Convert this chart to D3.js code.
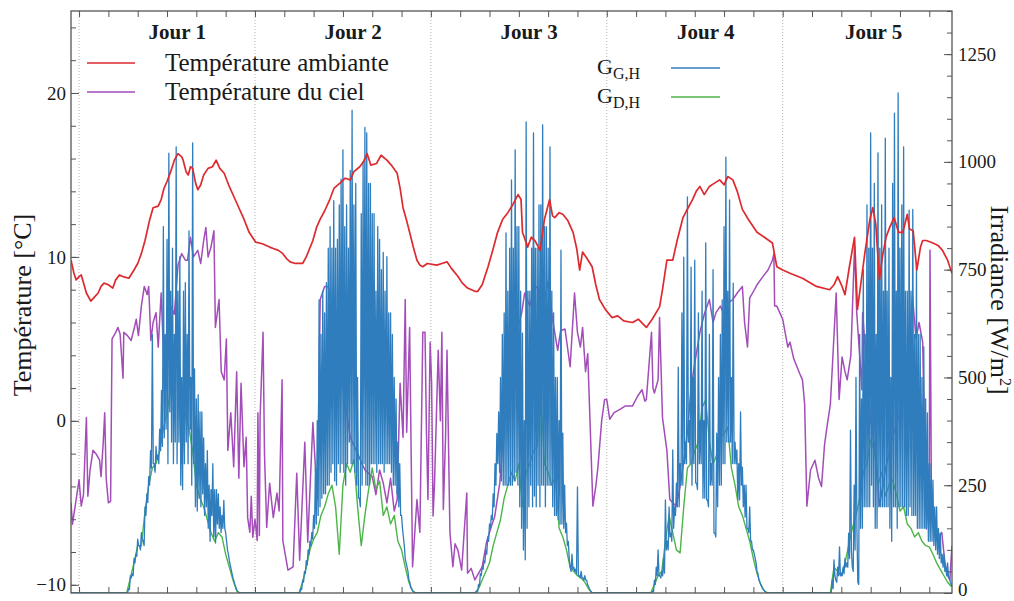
<!DOCTYPE html>
<html><head><meta charset="utf-8">
<script src="https://cdn.jsdelivr.net/npm/d3@7"></script>
<style>body{margin:0;background:#fff}svg{display:block}</style>
</head><body><svg id="c" width="1014" height="601"></svg>
<script>
// ---------------- DATA ----------------
const dayLabels = ["Jour 1","Jour 2","Jour 3","Jour 4","Jour 5"];
const dayLabelHours = [13.4, 37.4, 61.4, 85.5, 108.4];
const dayBounds = [0, 24, 48, 72, 96];
const tempTicks = [-10, 0, 10, 20];
const irrTicks = [0, 250, 500, 750, 1000, 1250];

// ambient temperature [hour, °C]
const ambient = [[-1.1,9.8],[-0.7,9.0],[-0.4,8.6],[0,8.8],[0.3,8.9],[1,7.8],[1.6,7.3],[2,7.5],[2.6,7.8],[3,8.2],[3.4,8.4],[4,8.3],[4.6,8.1],[5,8.6],[5.5,8.9],[6,8.8],[6.8,8.7],[7.5,9.2],[8,9.6],[8.5,10.2],[9,11.0],[9.6,12.2],[10.1,13.0],[10.8,13.1],[11.2,13.5],[11.6,14.2],[12,14.6],[12.5,15.2],[13,15.9],[13.5,16.3],[14,16.1],[14.2,15.9],[14.6,15.2],[14.9,15.0],[15.2,15.5],[15.5,15.4],[15.9,14.5],[16.2,14.1],[16.6,14.4],[17,15.0],[17.6,15.4],[18.2,15.5],[18.7,15.9],[19.2,15.4],[19.8,15.1],[20.4,14.4],[21.1,13.7],[21.8,13.0],[22.5,12.3],[23.2,11.5],[24.1,10.9],[25,10.8],[26,10.6],[26.6,10.5],[27.2,10.4],[27.8,10.2],[28.3,9.9],[28.8,9.7],[29.5,9.6],[30.5,9.6],[31,10.0],[31.9,11.0],[32.4,11.8],[32.9,12.3],[33.5,12.8],[34.2,13.5],[34.8,14.2],[35.6,14.5],[36.3,14.8],[37,14.7],[37.5,15.2],[38.3,15.5],[38.8,15.8],[39.3,16.3],[39.8,15.6],[40.6,15.7],[41.2,16.2],[42,15.9],[42.6,15.6],[43.4,15.1],[43.8,14.2],[44.2,13.0],[44.7,12.2],[45.1,11.5],[45.6,10.6],[46.1,9.8],[46.5,9.5],[46.9,9.4],[47.5,9.6],[48.8,9.5],[49.5,9.6],[50.2,9.7],[50.8,9.3],[51.7,8.8],[52.3,8.4],[53,8.1],[54,7.9],[54.4,7.9],[55,8.3],[55.8,9.4],[56.5,10.5],[57.1,11.5],[57.8,12.3],[58.5,12.7],[59.2,13.2],[59.9,13.8],[60.3,13.5],[60.5,11.5],[61.2,10.6],[61.7,11.2],[62.2,11.0],[62.9,10.4],[63.5,12.3],[64.2,13.5],[64.6,12.5],[64.9,12.4],[65.5,12.7],[66,12.6],[66.7,12.2],[67.4,11.5],[67.9,10.5],[68.3,9.2],[68.7,10.3],[69.3,9.9],[70,9.4],[70.5,8.3],[71,7.4],[71.8,6.8],[72.7,6.3],[73.5,6.4],[74.3,6.1],[75.5,6.0],[76.3,6.2],[77.4,5.7],[78.2,6.2],[79.2,6.95],[79.6,8.0],[80.2,9.8],[81,9.8],[81.6,11.0],[82.4,12.4],[83.1,13.0],[83.7,13.5],[84.2,14.0],[84.7,14.3],[85.3,13.8],[86,14.3],[86.7,14.5],[87.4,14.7],[88,14.4],[88.5,14.9],[89.2,14.7],[89.8,14.0],[90.5,12.9],[91.3,12.3],[92.5,11.5],[93.5,11.2],[94.6,10.85],[95.2,9.4],[96,9.2],[97,9.0],[98.7,8.7],[100.6,8.2],[102.4,8.0],[103,8.3],[103.5,8.8],[104.1,8.2],[104.5,7.7],[105.1,9.4],[105.8,11.2],[106.2,6.8],[106.7,8.5],[107.2,10.2],[107.9,12.3],[108.3,13.0],[108.7,12.0],[109.2,8.6],[109.6,10.0],[110.1,11.2],[110.6,11.8],[111.2,12.4],[111.8,11.5],[112.4,11.5],[113,12.6],[113.3,11.7],[113.8,11.6],[114.3,9.2],[114.8,10.6],[115.1,11.0],[115.6,11.0],[116.5,10.85],[117.2,10.7],[117.8,10.4],[118.5,9.8],[119.1,9.0]];

// sky temperature [hour, °C]
const sky = [[-1.1,-5.0],[-0.9,-6.3],[-0.4,-4.8],[0,-3.6],[0.3,-5.2],[0.6,-4.5],[1.0,0.2],[1.2,-4.6],[1.5,-3.0],[1.9,-1.8],[2.3,-2.0],[2.8,-2.4],[3.0,-3.4],[3.3,-1.3],[3.5,0.5],[3.7,-3.5],[4.0,-5.0],[4.3,-4.9],[4.5,5.0],[5.0,5.4],[5.3,5.7],[5.6,5.3],[6.0,2.6],[6.1,5.4],[6.6,5.2],[7.1,4.9],[7.5,5.6],[7.8,6.2],[8.1,5.2],[8.5,7.0],[8.9,8.2],[9.3,7.7],[9.5,8.2],[9.8,4.9],[10.1,6.0],[10.5,6.6],[10.8,4.5],[11.2,7.8],[11.6,3.3],[12.0,5.0],[12.5,7.0],[13.0,6.5],[13.5,9.5],[14.0,10.2],[14.5,9.8],[14.8,9.8],[15.2,11.2],[15.6,10.0],[16.2,10.4],[16.6,9.6],[17.0,11.0],[17.3,11.8],[17.6,10.0],[18.0,10.6],[18.4,11.6],[18.6,5.7],[19.1,7.4],[19.4,3.0],[19.8,2.5],[20.1,5.0],[20.3,-1.8],[20.7,0.5],[21.1,-2.8],[21.5,3.0],[21.8,-3.5],[22.1,2.3],[22.5,-2.8],[22.8,-1.0],[23.0,-5.9],[23.3,-6.8],[23.5,-4.6],[23.7,-7.1],[24.0,-6.0],[24.3,-7.3],[24.4,0.5],[24.6,-7.0],[24.7,0.2],[25.1,5.4],[25.3,-2.0],[25.6,-6.5],[26.0,-3.8],[26.5,-5.9],[27.0,-4.4],[27.3,-5.5],[27.7,2.5],[27.8,-7.3],[28.5,-9.1],[29.2,-8.9],[29.7,-3.2],[30.1,-8.5],[30.8,-1.3],[31.2,-7.4],[31.9,-0.1],[32.5,-4.8],[32.9,7.4],[33.5,8.2],[34.0,8.2],[35.0,5.0],[36.0,2.0],[37.0,-1.0],[38.0,-2.0],[39.0,-3.0],[40.0,-3.4],[40.5,-4.5],[41.0,-3.0],[41.5,-3.8],[42.0,-5.0],[42.5,-3.5],[43.0,-5.5],[43.4,-4.8],[43.8,2.3],[44.2,-1.0],[44.5,7.4],[44.7,-0.7],[45.1,5.7],[45.5,-8.9],[46.1,-4.8],[46.5,-6.8],[46.9,5.4],[47.2,5.4],[47.4,-0.7],[47.6,-4.8],[47.9,4.8],[48.1,2.3],[48.3,-5.8],[48.5,-3.8],[49.0,4.3],[49.3,0.0],[49.5,5.4],[49.7,-5.4],[50.0,-1.0],[50.2,4.3],[50.6,-6.8],[51.0,-8.9],[51.3,-7.5],[51.7,-7.9],[52.2,-9.1],[52.9,-4.4],[53.0,-9.3],[53.5,-9.0],[54.0,-9.7],[54.5,-9.3],[55.0,-8.9],[55.6,-7.4],[56.2,-6.5],[56.7,-5.85],[57.4,-3.8],[58.0,0.0],[58.7,3.0],[59.5,5.0],[60.4,6.6],[60.8,7.8],[61.5,7.0],[62.0,8.0],[62.6,8.2],[63.0,6.0],[63.5,7.4],[64.0,8.5],[64.6,6.2],[65.3,4.3],[65.7,5.5],[66.3,5.6],[67.0,3.3],[67.6,7.8],[68.0,5.4],[68.4,4.5],[68.7,5.7],[69.1,3.0],[69.4,4.1],[70.0,-3.8],[70.1,-5.2],[70.5,-4.0],[70.8,-2.8],[71.3,0.0],[71.7,1.3],[72.0,1.3],[72.4,0.1],[73.0,0.5],[73.8,0.7],[74.5,0.9],[75.5,0.9],[76.2,1.5],[76.8,1.9],[77.2,1.2],[77.4,1.3],[78.1,5.4],[78.3,2.0],[78.5,1.7],[79.0,2.5],[79.2,6.3],[79.6,0.2],[80.2,-1.8],[80.6,-4.8],[81.0,-5.0],[81.5,-5.2],[82.0,-4.0],[82.4,-2.8],[83.0,-0.7],[83.5,2.0],[84.0,3.5],[84.7,5.4],[85.3,6.5],[86.0,7.4],[86.5,6.0],[86.9,6.6],[87.5,7.0],[88.0,6.5],[88.5,7.2],[89.2,7.4],[89.8,7.8],[90.5,8.2],[90.8,6.0],[91.2,4.5],[91.5,7.5],[91.9,7.8],[92.5,8.3],[93.3,8.8],[94.0,9.2],[94.6,9.8],[94.8,10.2],[94.9,7.0],[95.2,7.0],[95.6,6.6],[96.0,6.2],[96.7,4.5],[97.0,4.8],[97.5,3.8],[98.3,2.9],[98.7,2.5],[99.0,1.0],[99.3,-5.2],[99.8,-3.0],[100.4,-2.4],[100.9,-3.5],[101.3,-4.0],[101.7,-1.5],[102.0,-0.5],[102.5,1.0],[102.8,3.5],[103.3,7.8],[103.7,1.3],[104.1,3.9],[104.5,3.0],[104.8,2.5],[105.3,4.0],[105.8,10.6],[106.1,6.6],[106.5,4.0],[106.8,1.9],[106.9,6.6],[107.5,3.0],[108.0,0.0],[108.7,-2.0],[109.2,-5.2],[110.0,-3.0],[111.0,-1.0],[112.0,0.5],[112.8,2.0],[113.3,5.0],[113.7,7.6],[114.2,5.0],[114.6,6.0],[115.1,4.8],[115.6,-6.6],[116.0,-4.0],[116.1,10.4],[116.3,-5.6],[117.0,-7.3],[117.7,-6.8],[118.1,-8.5],[118.4,-9.3],[118.8,-9.7],[119.1,-7.6]];

// global horizontal irradiance: highest and lowest reading in each 0.25 h from each day's start hour
const ggStart = [6.5, 30, 54, 78, 102.5];
const ggHi1 = [0,10,40,45,80,90,125,110,140,120,200,230,270,330,600,300,340,320,380,470,850,600,820,1020,700,800,600,1035,700,780,500,700,720,600,840,500,1044,520,450,460,420,420,360,300,330,250,240,300,240,240,230,200,180,215,140,100,75,55,35,20,8,0];
const ggLo1 = [0,8,35,40,70,85,110,100,125,110,180,210,250,290,300,280,310,300,330,340,360,380,300,420,350,300,350,300,350,250,240,300,350,300,380,250,300,200,190,220,200,230,180,200,150,120,180,130,116,160,150,140,150,150,120,90,65,45,28,14,4,0];
const ggHi2 = [0,10,30,50,75,100,120,140,180,290,400,680,600,700,650,720,800,850,800,910,800,820,900,960,1028,850,900,800,980,1120,900,950,500,220,880,1000,1080,1067,950,950,880,880,700,850,820,750,790,700,780,650,650,600,500,450,350,300,180,130,80,60,30,12,5,0];
const ggLo2 = [0,8,25,45,65,90,110,125,150,160,180,200,220,230,230,250,250,280,300,260,250,300,280,300,280,250,300,350,300,300,280,250,220,200,250,300,250,250,250,300,300,300,280,300,300,300,280,300,300,300,280,250,250,230,200,180,150,110,70,50,25,10,3,0];
const ggHi3 = [0,5,20,45,60,75,100,130,160,180,230,300,370,420,500,600,650,835,700,800,958,800,1028,850,850,700,603,400,1093,700,700,800,1067,800,800,900,900,1086,850,850,800,1035,700,650,500,500,400,795,371,250,162,120,60,90,60,55,246,40,50,35,40,30,15,5,0];
const ggLo3 = [0,3,15,40,55,70,90,120,150,170,200,250,300,280,260,250,250,250,250,250,250,260,280,250,200,150,100,77,150,200,250,200,225,200,250,200,250,250,200,250,250,250,200,180,180,170,160,160,150,140,110,80,50,55,50,45,40,35,35,30,30,20,10,3,0];
const ggHi4 = [0,5,30,60,100,40,50,80,216,120,200,139,332,200,255,524,300,650,779,350,919,400,756,500,772,255,650,400,700,400,812,216,600,300,750,139,371,500,600,680,850,1011,700,912,500,719,350,332,300,420,292,250,250,150,200,120,100,80,50,30,20,10,5,0];
const ggLo4 = [0,3,20,40,40,35,40,46,100,100,130,120,150,180,200,200,250,250,300,300,350,300,250,300,255,240,300,300,220,220,216,200,250,250,139,130,200,250,250,300,300,350,350,350,300,300,300,216,216,250,200,176,150,140,120,100,90,70,45,25,15,8,3,0];
const ggHi5 = [0,30,77,30,60,107,46,60,80,70,139,378,60,250,500,25,600,450,750,600,900,800,1067,800,950,600,1021,800,900,700,1055,700,800,500,950,1113,700,1160,800,900,1035,700,700,888,700,890,600,756,600,600,500,571,450,418,300,300,262,200,200,150,139,90,90,60,70,35,20];
const ggLo5 = [0,10,40,25,40,40,40,45,60,60,80,100,50,100,150,20,150,150,200,200,200,200,250,200,150,150,200,200,200,200,200,200,150,120,200,200,150,200,200,200,200,180,180,200,180,180,180,150,150,150,150,150,150,120,120,120,110,100,90,80,70,60,50,40,35,25,15];

// diffuse horizontal irradiance, one value every 0.5 h from each day's start hour
const gdStart = [6.5, 30, 54, 78, 102.5];
const gdDay1 = [0,35,70,110,110,190,250,290,300,330,380,420,470,575,520,300,420,380,330,250,220,200,170,140,120,140,130,90,60,30,5,0];
const gdDay2 = [0,25,60,100,125,140,180,200,230,250,200,90,250,300,280,310,200,110,180,240,290,240,260,180,200,160,180,120,100,60,25,5,0];
const gdDay3 = [0,10,30,50,70,110,140,170,220,250,280,260,300,200,280,300,330,340,460,300,280,250,270,150,130,100,60,50,40,35,25,10,0];
const gdDay4 = [0,20,40,50,120,180,140,100,93,200,290,300,330,350,430,448,350,300,320,360,370,385,290,250,200,180,150,120,80,45,20,5,0];
const gdDay5 = [0,60,50,40,70,110,150,180,220,280,300,355,330,250,280,225,250,262,230,190,200,160,150,130,140,120,110,107,90,70,55,40,25,15];

// ---------------- CHART ----------------
const svg = d3.select('#c');
const L = 71, R = 952, T = 11, B = 593;
const FONT = "'Liberation Serif','Times New Roman',serif";
const txt = '#1a1a1a';

const x = d3.scaleLinear().domain([-1.1, 119.1]).range([L, R]);
const yT = d3.scaleLinear().domain([-10.5, 25]).range([B, T]);
const yG = d3.scaleLinear().domain([0, 1350]).range([B, T]);

svg.append('clipPath').attr('id', 'clip').append('rect')
  .attr('x', L).attr('y', T).attr('width', R - L).attr('height', B - T);

// day gridlines
svg.append('g').selectAll('line').data(dayBounds).join('line')
  .attr('x1', d => x(d)).attr('x2', d => x(d)).attr('y1', T).attr('y2', B)
  .attr('stroke', '#9a9a9a').attr('stroke-width', 0.8).attr('stroke-dasharray', '1,2');

// global irradiance: hi at start of each quarter hour, lo at its middle
const ggHi = [ggHi1, ggHi2, ggHi3, ggHi4, ggHi5];
const ggLo = [ggLo1, ggLo2, ggLo3, ggLo4, ggLo5];
const gg = [[x.domain()[0], 0]];
ggHi.forEach((arr, k) => arr.forEach((v, i) => {
  gg.push([ggStart[k] + i * 0.25, v]);
  gg.push([ggStart[k] + i * 0.25 + 0.125, ggLo[k][i]]);
}));
const gd = [[x.domain()[0], 0]];
[gdDay1, gdDay2, gdDay3, gdDay4, gdDay5].forEach((arr, k) =>
  arr.forEach((v, i) => gd.push([gdStart[k] + i * 0.5, v])));

const lineT = d3.line().x(d => x(d[0])).y(d => yT(d[1]));
const lineG = d3.line().x(d => x(d[0])).y(d => yG(d[1]));

const plot = svg.append('g').attr('clip-path', 'url(#clip)');
const cSky = '#a24db8', cAmb = '#dd2a2e', cGG = '#2f7dbd', cGD = '#4cb548';

plot.append('path').datum(sky).attr('d', lineT).attr('fill', 'none')
  .attr('stroke', cSky).attr('stroke-width', 1.5).attr('stroke-linejoin', 'round');
plot.append('path').datum(gd).attr('d', lineG).attr('fill', 'none')
  .attr('stroke', cGD).attr('stroke-width', 1.4).attr('stroke-linejoin', 'round');
plot.append('path').datum(gg).attr('d', lineG).attr('fill', 'none')
  .attr('stroke', cGG).attr('stroke-width', 1.3).attr('stroke-linejoin', 'round');
plot.append('path').datum(ambient).attr('d', lineT).attr('fill', 'none')
  .attr('stroke', cAmb).attr('stroke-width', 1.7).attr('stroke-linejoin', 'round');

// axes
function style(g) {
  g.select('.domain').remove();
  g.selectAll('line').attr('stroke', '#555').attr('stroke-width', 1);
  g.selectAll('text').attr('font-family', FONT).attr('font-size', 19).attr('fill', txt);
}
const xTicks = d3.range(0, 117, 4);
svg.append('g').attr('transform', `translate(0,${T})`)
  .call(d3.axisTop(x).tickValues(xTicks).tickSize(-6).tickFormat('')).call(style);
svg.append('g').attr('transform', `translate(0,${B})`)
  .call(d3.axisBottom(x).tickValues(xTicks).tickSize(-6).tickFormat('')).call(style);

svg.append('g').attr('transform', `translate(${L},0)`)
  .call(d3.axisLeft(yT).tickValues(d3.range(-10, 25, 2)).tickSize(-5).tickFormat('')).call(style);
svg.append('g').attr('transform', `translate(${L},0)`)
  .call(d3.axisLeft(yT).tickValues(tempTicks).tickSize(-8).tickPadding(5).tickFormat(d3.format('d'))).call(style);

svg.append('g').attr('transform', `translate(${R},0)`)
  .call(d3.axisRight(yG).tickValues(d3.range(0, 1351, 50)).tickSize(-5).tickFormat('')).call(style);
const rAx = svg.append('g').attr('transform', `translate(${R},0)`)
  .call(d3.axisRight(yG).tickValues(irrTicks).tickSize(-8).tickPadding(6).tickFormat(d3.format('d'))).call(style);
rAx.selectAll('text').filter(d => d === 0).attr('dy', '0.15em');

// frame
svg.append('rect').attr('x', L).attr('y', T).attr('width', R - L).attr('height', B - T)
  .attr('fill', 'none').attr('stroke', '#555').attr('stroke-width', 1.3);

// axis titles
svg.append('text').attr('transform', `translate(31,305) rotate(-90)`)
  .attr('text-anchor', 'middle').attr('font-family', FONT).attr('font-size', 26).attr('fill', txt)
  .text('Température [°C]');
const rt = svg.append('text').attr('transform', `translate(991,300) rotate(90)`)
  .attr('text-anchor', 'middle').attr('font-family', FONT).attr('font-size', 26).attr('fill', txt);
rt.append('tspan').text('Irradiance [W/m');
rt.append('tspan').attr('dy', -9).attr('font-size', 16).text('2');
rt.append('tspan').attr('dy', 9).text(']');

// day labels
svg.append('g').selectAll('text').data(dayLabels).join('text')
  .attr('x', (d, i) => x(dayLabelHours[i])).attr('y', 39)
  .attr('text-anchor', 'middle').attr('font-family', FONT).attr('font-weight', 'bold')
  .attr('font-size', 21).attr('fill', txt).text(d => d);

// legend temperatures
const legT = [['Température ambiante', cAmb, 63], ['Température du ciel', cSky, 92]];
legT.forEach(([lab, col, yy]) => {
  svg.append('line').attr('x1', 87).attr('x2', 135).attr('y1', yy).attr('y2', yy)
    .attr('stroke', col).attr('stroke-width', 1.5);
  svg.append('text').attr('x', 165).attr('y', yy + 8).attr('font-family', FONT)
    .attr('font-size', 25).attr('fill', txt).text(lab);
});
// legend irradiance
const legG = [['G,H', cGG, 68], ['D,H', cGD, 97]];
legG.forEach(([sub, col, yy]) => {
  const t = svg.append('text').attr('x', 597).attr('y', yy + 6).attr('font-family', FONT)
    .attr('font-size', 22).attr('fill', txt);
  t.append('tspan').text('G');
  t.append('tspan').attr('dy', 5).attr('font-size', 16).text(sub);
  svg.append('line').attr('x1', 671).attr('x2', 720).attr('y1', yy).attr('y2', yy)
    .attr('stroke', col).attr('stroke-width', 1.5);
});
</script></body></html>
